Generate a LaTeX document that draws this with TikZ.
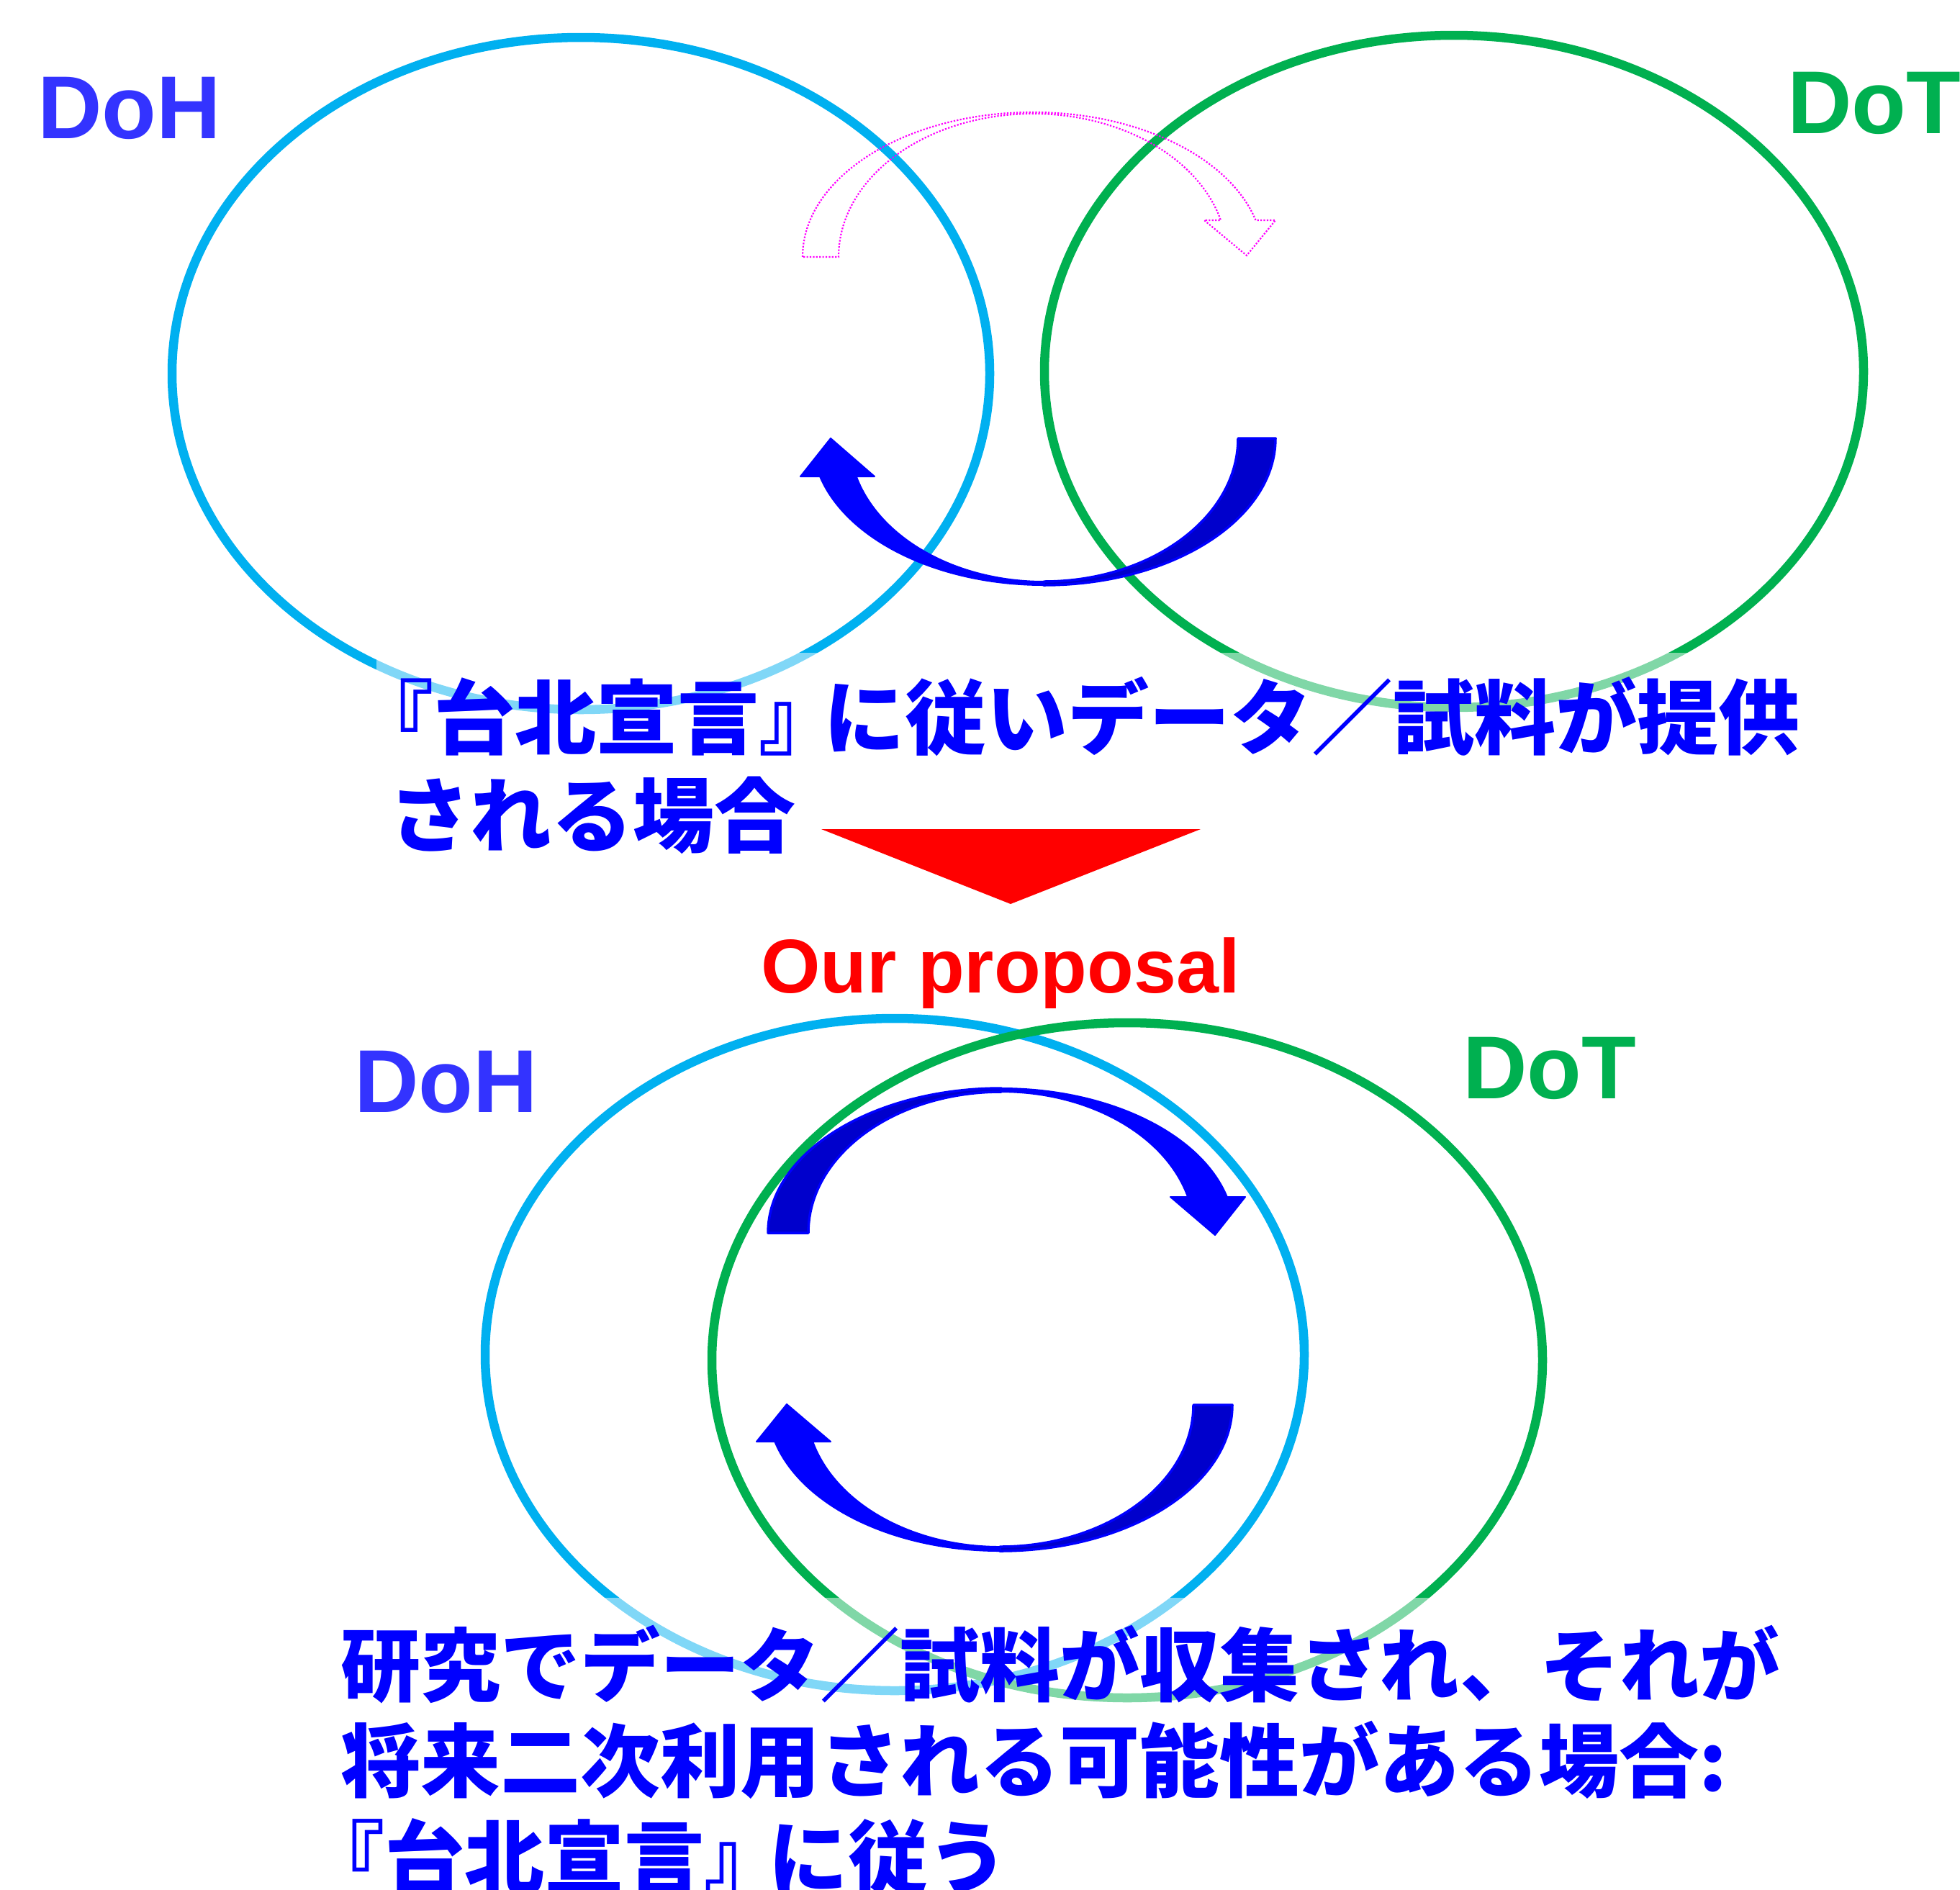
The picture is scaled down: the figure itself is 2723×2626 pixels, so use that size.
\documentclass[tikz,border=0pt]{standalone}
\usepackage{fontspec}
\newfontfamily\arial{Liberation Sans}
\newfontfamily\cjk{Noto Sans CJK JP}
\definecolor{cyanc}{HTML}{00B0F0}
\definecolor{greenc}{HTML}{00B050}
\definecolor{dohblue}{HTML}{3333FF}
\definecolor{jpblue}{HTML}{0000FF}
\definecolor{arrowblue}{HTML}{0000FF}
\definecolor{arrowdark}{HTML}{0000CC}
\definecolor{magc}{HTML}{FF00FF}
\definecolor{redc}{HTML}{FF0000}
\tikzset{
  dohring/.style={draw=cyanc, line width=12.5},
  dotring/.style={draw=greenc, line width=12.5},
  brightpart/.style={fill=arrowblue, draw=arrowblue, line width=2, line join=round},
  darkpart/.style={fill=arrowdark, draw=arrowblue, line width=3.5, line join=round},
  magarrow/.style={draw=magc, line width=2.2, dash pattern=on 2.2 off 2.2},
  lbl/.style={font=\arial\bfseries\fontsize{124}{130}\selectfont, inner sep=0, anchor=base west},
  jp/.style={font=\cjk\bfseries\fontsize{111}{134}\selectfont, text=jpblue, inner sep=0, anchor=base west},
  jpbig/.style={jp, font=\cjk\bfseries\fontsize{113}{136}\selectfont},
  veil/.style={fill=white, fill opacity=0.5},
}
\begin{document}
\begin{tikzpicture}[x=1pt,y=-1pt]
\useasboundingbox (0,0) rectangle (2723,2626);

% ---------- top ellipses ----------
\draw[dohring] (807,519) ellipse [x radius=568, y radius=467];
\draw[dotring] (2020,516) ellipse [x radius=569, y radius=467];

% magenta dotted curved arrow
\draw[magarrow] (1115,357) arc[start angle=180, end angle=345.3, x radius=320, y radius=201]
  -- (1772,306) -- (1732,355) -- (1673,306) -- (1696,306)
  arc[start angle=345.15, end angle=180, x radius=270, y radius=199] -- cycle;

% blue curved up arrow (top)
\draw[brightpart] (1450,813) arc[start angle=90, end angle=164.94, x radius=322, y radius=204]
  -- (1112,662) -- (1154,609) -- (1215,662) -- (1189.7,662)
  arc[start angle=164.55, end angle=90, x radius=270, y radius=199] -- cycle;
\draw[darkpart] (1772,609) arc[start angle=0, end angle=90, x radius=322, y radius=204]
  -- (1450,808) arc[start angle=90, end angle=0, x radius=270, y radius=199] -- cycle;

% labels top
\node[lbl, text=dohblue] (doh1) at (52,192) {DoH};
\node[lbl, text=greenc] (dot1) at (2483,185) {DoT};

% top text
\fill[veil] (523,907) rectangle (2512,1200);
\node[jpbig] (t1a) at (540,1039) {\kern-0.45em『台北宣言』\kern-0.2em に従いデータ／試料が提供};
\node[jpbig] (t1b) at (540,1175) {される場合};

% red triangle
\fill[redc, line join=round] (1141,1152) -- (1668,1152) -- (1404,1256) -- cycle;
\node[font=\arial\bfseries\fontsize{106}{110}\selectfont, text=redc, inner sep=0, anchor=base west] (prop) at (1057,1379) {Our proposal};

% ---------- bottom ellipses ----------
\draw[dohring] (1243,1882) ellipse [x radius=569, y radius=467];
\draw[dotring] (1566,1890) ellipse [x radius=577, y radius=469];

% blue curved down arrow (bottom, upper)
\draw[brightpart] (1391,1512) arc[start angle=270, end angle=345.6, x radius=324, y radius=201]
  -- (1730,1663) -- (1688,1716) -- (1626,1663) -- (1650.1,1663)
  arc[start angle=345.2, end angle=270, x radius=268, y radius=196] -- cycle;
\draw[darkpart] (1067,1713) arc[start angle=180, end angle=270, x radius=324, y radius=201]
  -- (1391,1517) arc[start angle=270, end angle=180, x radius=268, y radius=196] -- cycle;

% blue curved up arrow (bottom, lower)
\draw[brightpart] (1389,2155) arc[start angle=90, end angle=165.45, x radius=323, y radius=203]
  -- (1051,2003) -- (1093,1951) -- (1154,2003) -- (1129.2,2003)
  arc[start angle=165.0, end angle=90, x radius=269, y radius=197] -- cycle;
\draw[darkpart] (1712,1952) arc[start angle=0, end angle=90, x radius=323, y radius=203]
  -- (1389,2149) arc[start angle=90, end angle=0, x radius=269, y radius=197] -- cycle;

% labels bottom
\node[lbl, text=dohblue] (doh2) at (492,1545) {DoH};
\node[lbl, text=greenc] (dot2) at (2032,1526) {DoT};

% bottom text
\fill[veil] (455,2220) rectangle (2495,2626);
\node[jp] (t2a) at (473,2355) {研究でデータ／試料が収集され、それが};
\node[jp] (t2b) at (473,2488) {将来二次利用される可能性がある場合:};
\node[jp] (t2c) at (473,2622) {\kern-0.45em『台北宣言』\kern-0.2em に従う};
\end{tikzpicture}
\end{document}
